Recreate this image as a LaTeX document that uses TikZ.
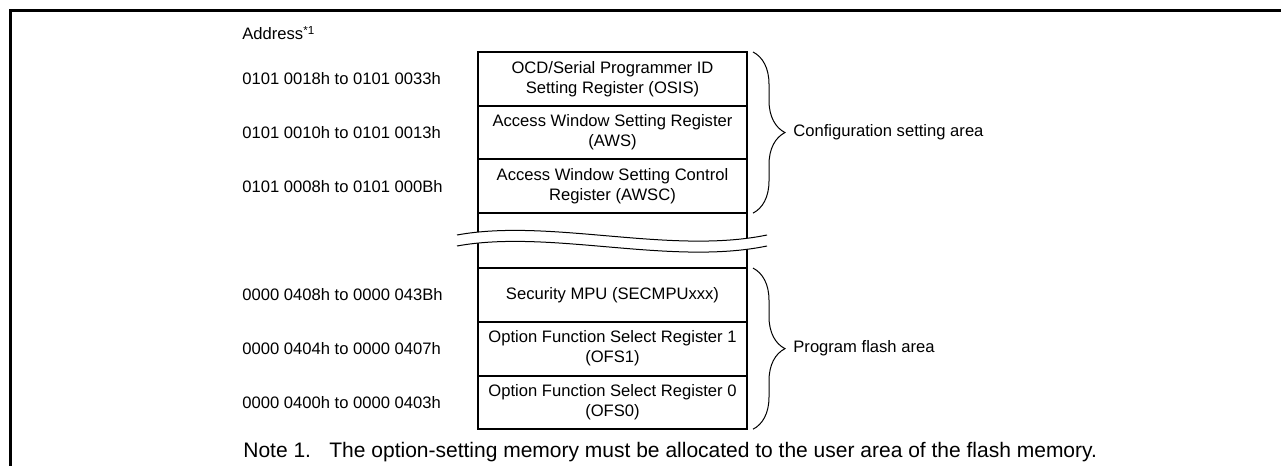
\documentclass[tikz,border=0pt]{standalone}
\usepackage{fontspec}
\setmainfont{Liberation Sans}
\usetikzlibrary{positioning,decorations.pathreplacing}
\begin{document}
\begin{tikzpicture}[x=0.5pt,y=-0.5pt,
    reg/.style={draw,line width=1pt,outer sep=0pt,minimum width=134.5pt,
      minimum height=26.85pt,inner sep=0pt,align=center,
      font=\fontsize{8.3}{10}\selectfont},
    addr/.style={anchor=west,inner sep=0pt,font=\fontsize{8.3}{10}\selectfont},
    notetext/.style={anchor=base west,inner sep=0pt,font=\fontsize{10.5}{12}\selectfont},
    area/.style={line width=0.5pt,decorate,decoration={brace,amplitude=16pt}},
    wave/.style={line width=0.5pt}]
  \useasboundingbox (0,0) rectangle (1281,466);
  % frame
  \draw[line width=1.5pt] (10.5,466) -- (10.5,10.5) -- (1281,10.5);

  % memory map
  \node[reg] (osis) at (612.5,78.85) {OCD/Serial Programmer ID\\Setting Register (OSIS)};
  \node[reg,below=0pt of osis] (aws) {Access Window Setting Register\\(AWS)};
  \node[reg,below=0pt of aws] (awsc) {Access Window Setting Control\\Register (AWSC)};
  \node[reg,below=0pt of awsc,minimum height=27.5pt] (gap) {};
  \node[reg,below=0pt of gap] (secmpu) {Security MPU (SECMPUxxx)};
  \node[reg,below=0pt of secmpu] (ofs1) {Option Function Select Register 1\\(OFS1)};
  \node[reg,below=0pt of ofs1] (ofs0) {Option Function Select Register 0\\(OFS0)};

  % break
  \fill[white] (457,235) .. controls (550,218) and (670,255) .. (767,235)
    -- (767,246) .. controls (670,266) and (550,229) .. (457,246) -- cycle;
  \draw[wave] (457,235) .. controls (550,218) and (670,255) .. (767,235);
  \draw[wave] (457,246) .. controls (550,229) and (670,266) .. (767,246);

  % addresses
  \coordinate (ax) at (242,0);
  \node[addr] (head) at (242,33) {Address\textsuperscript{*1}};
  \node[addr] (a1) at (ax |- osis) {0101 0018h to 0101 0033h};
  \node[addr] (a2) at (ax |- aws) {0101 0010h to 0101 0013h};
  \node[addr] (a3) at (ax |- awsc) {0101 0008h to 0101 000Bh};
  \node[addr] (a4) at (ax |- secmpu) {0000 0408h to 0000 043Bh};
  \node[addr] (a5) at (ax |- ofs1) {0000 0404h to 0000 0407h};
  \node[addr] (a6) at (ax |- ofs0) {0000 0400h to 0000 0403h};

  % areas
  \draw[area] ([xshift=3pt]osis.north east) -- ([xshift=3pt]awsc.south east);
  \draw[area] ([xshift=3pt]secmpu.north east) -- ([xshift=3pt]ofs0.south east);
  \node[addr] (cfg) at ([xshift=23pt]aws.east) {Configuration setting area};
  \node[addr] (pfa) at ([xshift=23pt]ofs1.east) {Program flash area};

  % note
  \node[notetext] (note) at (243,457) {Note 1.};
  \node[notetext] (notetxt) at (329,457)
    {The option-setting memory must be allocated to the user area of the flash memory.};
\end{tikzpicture}
\end{document}
